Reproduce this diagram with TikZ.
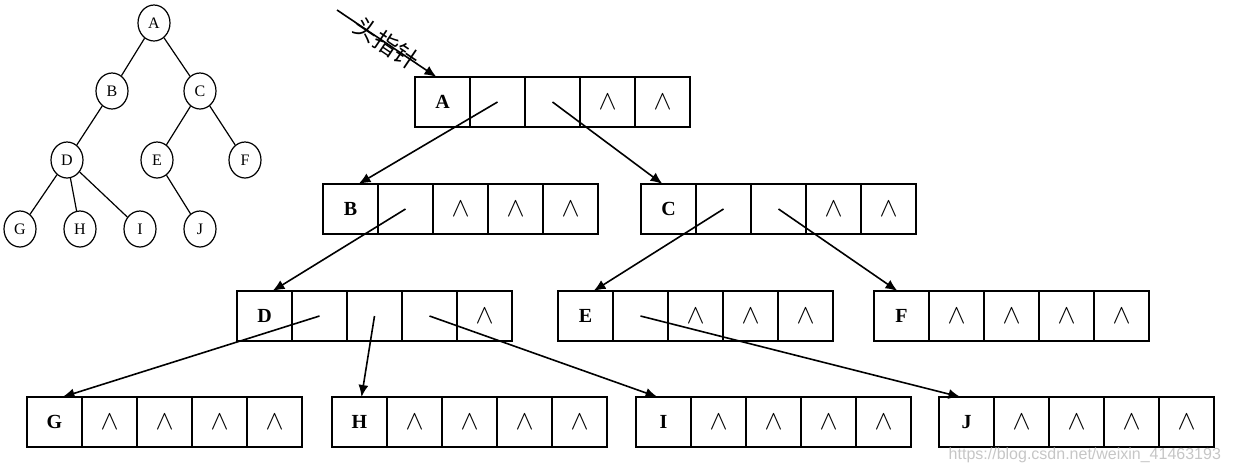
\documentclass[tikz,border=0pt]{standalone}
\usepackage{fontspec}
\setmainfont{Liberation Serif}
\newfontfamily\cjk{Noto Sans CJK SC}
\newfontfamily\wmfont{Liberation Sans}
\usetikzlibrary{positioning,shapes.geometric,arrows.meta}
% n = null field, p = pointer field
\newcommand\fieldtext[1]{\if#1n\scalebox{1.35}{$\wedge$}\fi}

\begin{document}
\begin{tikzpicture}[x=0.5pt, y=-0.5pt,
    cell/.style={draw, line width=0.8pt, minimum width=27.5pt, minimum height=25pt, inner sep=0pt, outer sep=0pt},
    datacell/.style={cell, anchor=north west, font=\bfseries},
    vertex/.style={draw, ellipse, line width=0.6pt, minimum width=16pt, minimum height=18pt, inner sep=0pt, font=\footnotesize},
    edge/.style={line width=0.6pt},
    ptr/.style={line width=0.8pt, -{Latex[length=6pt,width=5pt]}}]
    \useasboundingbox (0,0) rectangle (1237,473);

    % Tree
    \node[vertex] (tA) at (154,23) {A};
    \node[vertex] (tB) at (112,91) {B};
    \node[vertex] (tC) at (200,91) {C};
    \node[vertex] (tD) at (67,160) {D};
    \node[vertex] (tE) at (157,160) {E};
    \node[vertex] (tF) at (245,160) {F};
    \node[vertex] (tG) at (20,229) {G};
    \node[vertex] (tH) at (80,229) {H};
    \node[vertex] (tI) at (140,229) {I};
    \node[vertex] (tJ) at (200,229) {J};
    \draw[edge] (tA) -- (tB) (tA) -- (tC) (tB) -- (tD) (tC) -- (tE) (tC) -- (tF);
    \draw[edge] (tD) -- (tG) (tD) -- (tH) (tD) -- (tI) (tE) -- (tJ);

    % Multi-list nodes: data field and four pointer fields
    \foreach \nm/\px/\py/\fa/\fb/\fc/\fd in {A/415/77/p/p/n/n, B/323/184/p/n/n/n,
        C/641/184/p/p/n/n, D/237/291/p/p/p/n, E/558/291/p/n/n/n, F/874/291/n/n/n/n,
        G/27/397/n/n/n/n, H/332/397/n/n/n/n, I/636/397/n/n/n/n, J/939/397/n/n/n/n}{
        \node[datacell] (\nm0) at (\px,\py) {\nm};
        \node[cell, right=0pt of \nm0] (\nm1) {\fieldtext\fa};
        \node[cell, right=0pt of \nm1] (\nm2) {\fieldtext\fb};
        \node[cell, right=0pt of \nm2] (\nm3) {\fieldtext\fc};
        \node[cell, right=0pt of \nm3] (\nm4) {\fieldtext\fd};
    }

    % Head pointer
    \coordinate (head) at (337,10);
    \draw[ptr] (head) -- ([xshift=-3pt]A0.north)
        node[midway, sloped, font=\cjk\fontsize{12}{12}\selectfont] (headlabel) {头指针};

    % Pointers
    \draw[ptr] (A1.center) -- ([xshift=4pt]B0.north);
    \draw[ptr] (A2.center) -- ([xshift=-3pt]C0.north);
    \draw[ptr] (B1.center) -- ([xshift=4pt]D0.north);
    \draw[ptr] (C1.center) -- ([xshift=4pt]E0.north);
    \draw[ptr] (C2.center) -- ([xshift=-2pt]F0.north);
    \draw[ptr] (D1.center) -- ([xshift=4pt]G0.north);
    \draw[ptr] (D2.center) -- ([xshift=1pt]H0.north);
    \draw[ptr] (D3.center) -- ([xshift=-3pt]I0.north);
    \draw[ptr] (E1.center) -- ([xshift=-3pt]J0.north);

    % Watermark
    \node[anchor=east, text=gray!45, font=\wmfont\fontsize{8}{8}\selectfont] (mark) at (1228,455)
        {https://blog.csdn.net/weixin\_41463193};
\end{tikzpicture}
\end{document}
